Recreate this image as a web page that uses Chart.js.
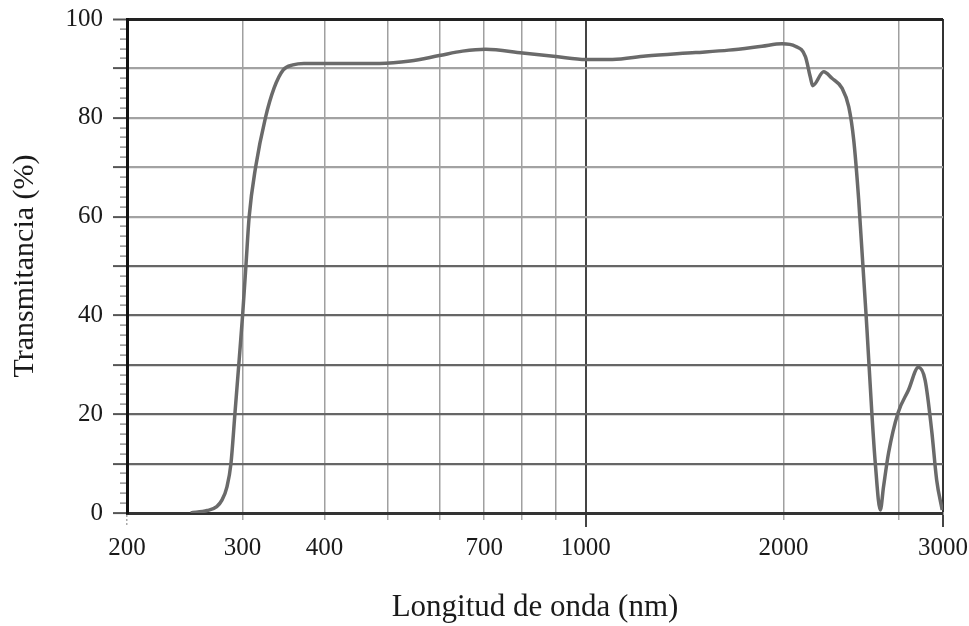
<!DOCTYPE html>
<html>
<head>
<meta charset="utf-8">
<script src="https://cdn.jsdelivr.net/npm/chart.js@4/dist/chart.umd.min.js"></script>
<style>
  html, body { margin: 0; padding: 0; background: #ffffff; }
  #wrap { width: 969px; height: 626px; }
</style>
</head>
<body>
<div id="wrap"><canvas id="chart"></canvas></div>
<script>
// Spectrum (wavelength in nm, transmittance in %)
const wavelength = [
  250, 265, 274, 279, 284, 288, 292, 296, 300, 303.5, 307, 314, 325, 335, 346, 358, 372,
  400, 485, 540, 598, 649, 704, 801, 900, 1000, 1098, 1234, 1470, 1651, 1855, 1990, 2085,
  2160, 2197, 2216, 2303, 2371, 2456, 2515, 2559, 2604, 2681, 2727, 2760, 2809, 2841, 2891,
  2988, 3101, 3211, 3287, 3363, 3423, 3490
];
const transmittance = [
  0, 0.5, 1.3, 2.6, 5.3, 10, 20, 30, 40, 50, 60, 70, 80, 86, 89.7, 90.7, 91,
  91, 91, 91.5, 92.6, 93.5, 93.9, 93.1, 92.4, 91.8, 91.8, 92.5, 93.2, 93.7, 94.5, 95, 94.5,
  92.4, 88.3, 86.5, 89.3, 88, 86, 82.2, 75.5, 63.4, 37, 20.2, 10.1, 0.6, 5.3, 12.1,
  20.2, 24.9, 29.5, 26.9, 16.8, 6.7, 0.6
];

// x axis: grid positions, and the labels printed under them
// (the reference prints "3000" at the right end of its axis)
const xGrid = [200, 300, 400, 500, 600, 700, 800, 900, 1000, 2000, 3000, 3500];
const xLabels = { 200: '200', 300: '300', 400: '400', 700: '700', 1000: '1000', 2000: '2000', 3500: '3000' };
const yLabels = [0, 20, 40, 60, 80, 100];

const serif = "'Liberation Serif', 'Times New Roman', serif";

new Chart(document.getElementById('chart'), {
  type: 'line',
  data: {
    datasets: [{
      data: wavelength.map((w, i) => ({ x: w, y: transmittance[i] })),
      borderColor: '#6a6a6a',
      borderWidth: 3.5,
      pointRadius: 0,
      cubicInterpolationMode: 'monotone',
      fill: false
    }]
  },
  options: {
    responsive: true,
    maintainAspectRatio: false,
    animation: false,
    layout: { padding: { top: 19, right: 26, left: 0, bottom: 0 } },
    plugins: {
      legend: { display: false },
      tooltip: { enabled: false }
    },
    scales: {
      x: {
        type: 'logarithmic',
        min: 200,
        max: 3500,
        afterBuildTicks: (scale) => {
          scale.ticks = xGrid.map(v => ({ value: v }));
        },
        afterFit: (scale) => {
          scale.height = 113;
          scale.paddingRight = 0; // let the last label run into the margin
        },
        grid: {
          color: (ctx) => {
            const v = ctx.tick && ctx.tick.value;
            if (v === 1000) return '#444';
            if (v === 3500) return '#333';
            if (v === 200) return 'transparent';
            return '#a0a0a0';
          },
          lineWidth: (ctx) => {
            const v = ctx.tick && ctx.tick.value;
            return (v === 1000 || v === 3500) ? 2 : 1.5;
          },
          tickLength: 14,
          tickColor: (ctx) => {
            const v = ctx.tick && ctx.tick.value;
            return (v === 1000 || v === 3500) ? '#444' : '#aaa';
          },
          tickBorderDash: (ctx) => {
            const v = ctx.tick && ctx.tick.value;
            if (v === 1000 || v === 3500) return [];
            if (v === 200) return [2, 2];
            return [5, 30];
          }
        },
        border: { display: true, color: '#333', width: 3 },
        ticks: {
          autoSkip: false,
          maxRotation: 0,
          padding: 6,
          color: '#1a1a1a',
          font: { family: serif, size: 25 },
          callback: (v) => xLabels[v] || ''
        },
        title: {
          display: true,
          text: 'Longitud de onda (nm)',
          color: '#1a1a1a',
          font: { family: serif, size: 31 },
          padding: { top: 0, bottom: 0 }
        }
      },
      y: {
        min: 0,
        max: 100,
        afterFit: (scale) => {
          scale.width = 127;
          scale.paddingTop = 0;
        },
        grid: {
          color: (ctx) => {
            const v = ctx.tick && ctx.tick.value;
            if (v === 100) return '#222';
            if (v === 0 || v % 10 !== 0) return 'transparent';
            return v >= 60 ? '#a2a2a2' : '#666';
          },
          lineWidth: (ctx) => {
            const v = ctx.tick && ctx.tick.value;
            return v === 100 ? 3 : 2.2;
          },
          tickLength: 14,
          tickColor: (ctx) => {
            const v = ctx.tick && ctx.tick.value;
            return v % 10 === 0 ? '#555' : '#777';
          },
          tickWidth: (ctx) => {
            const v = ctx.tick && ctx.tick.value;
            return v % 10 === 0 ? 2 : 1.2;
          },
          tickBorderDash: (ctx) => {
            const v = ctx.tick && ctx.tick.value;
            return v % 10 === 0 ? [] : [7, 7];
          },
          tickBorderDashOffset: (ctx) => {
            const v = ctx.tick && ctx.tick.value;
            return v % 10 === 0 ? 0 : 7;
          }
        },
        border: { display: true, color: '#111', width: 3 },
        ticks: {
          stepSize: 2,
          autoSkip: false,
          padding: 10,
          color: '#1a1a1a',
          font: { family: serif, size: 25 },
          callback: (v) => yLabels.includes(v) ? String(v) : ''
        },
        title: {
          display: true,
          text: 'Transmitancia (%)',
          color: '#1a1a1a',
          font: { family: serif, size: 30 },
          padding: { top: 7, bottom: 0 }
        }
      }
    }
  }
});
</script>
</body>
</html>
